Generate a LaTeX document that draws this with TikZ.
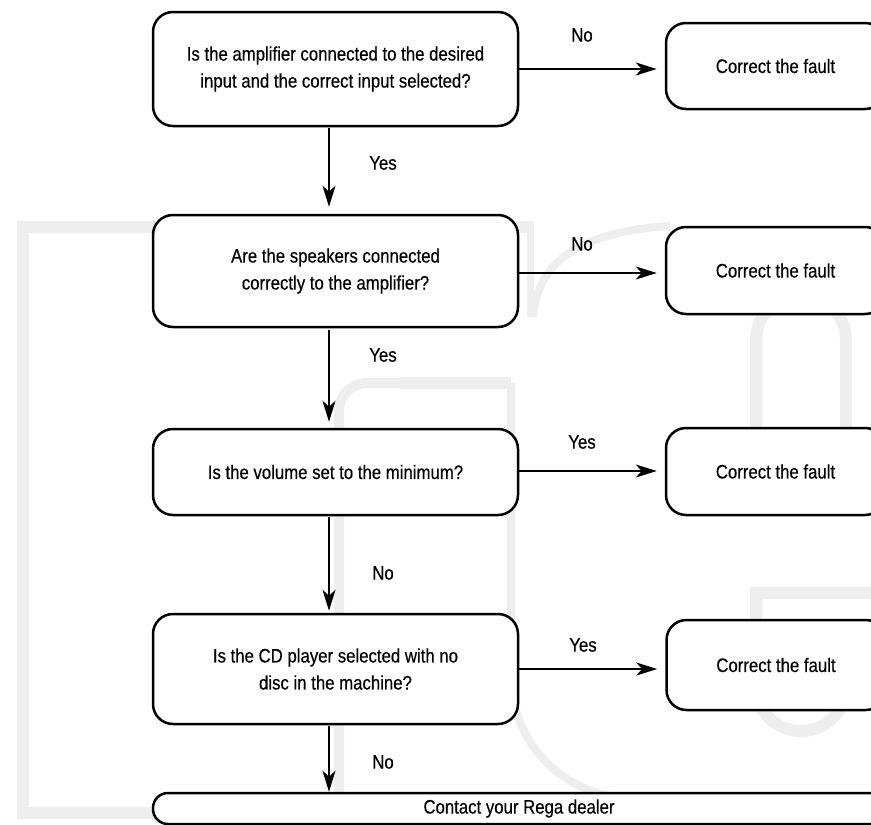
\documentclass[tikz,border=0pt]{standalone}
\usepackage{fontspec}
\setmainfont{Liberation Sans}[FakeStretch=0.86,FakeBold=0.4]
\usetikzlibrary{arrows.meta}
\definecolor{wm}{RGB}{238,238,238}
\tikzset{
  txt/.style={font=\fontsize{19.5}{27}\selectfont, text=black},
  qnode/.style={txt, draw, line width=2.5pt, rounded corners=20pt, fill=white,
    minimum width=365pt, inner sep=0pt, align=center},
  fnode/.style={txt, draw, line width=2.5pt, rounded corners=20pt, fill=white,
    minimum width=219pt, inner sep=0pt, align=center},
  endnode/.style={txt, draw, line width=2.5pt, rounded corners=15pt, fill=white,
    minimum width=732pt, minimum height=31pt, inner sep=0pt},
  arr/.style={-{Stealth[length=21pt,width=13pt,inset=6pt]}, line width=2.2pt},
  lab/.style={txt, inner sep=0pt},
  wmark/.style={draw=wm, line cap=butt, line join=miter}
}
\begin{document}
\begin{tikzpicture}[x=1pt,y=-1pt]
\useasboundingbox (0,0) rectangle (871,825);
\clip (0,0) rectangle (871,825);
\fill[white] (0,0) rectangle (871,825);
% watermark logo
\draw[wmark, line width=12pt] (160,813) -- (23,813) -- (23,227) -- (533,227);
\draw[wmark, line width=7pt] (530,221) -- (530,317);
\draw[wmark, line width=8pt] (533,317) .. controls (537,265) and (575,232) .. (670,226);
\draw[wmark, line width=10pt, rounded corners=28pt] (339,830) -- (339,383) -- (420,383);
\draw[wmark, line width=12pt] (400,383) -- (511,383);
\draw[wmark, line width=8pt] (511,383) -- (511,676) .. controls (511,743) and (565,798) .. (632,798);
\draw[wmark, line width=12pt] (756,432) -- (756,340) .. controls (756,315) and (776,295) .. (801,295)
   .. controls (826,295) and (846,315) .. (846,340) -- (846,432);
\draw[wmark, line width=12pt] (880,593) -- (756,593) -- (756,686)
   .. controls (756,711) and (776,731) .. (801,731) .. controls (826,731) and (846,711) .. (846,686) -- (846,650);
% nodes
\node[qnode, minimum height=114pt] (q1) at (335.5,69) {Is the amplifier connected to the desired\\input and the correct input selected?};
\node[qnode, minimum height=112pt] (q2) at (335.5,271) {Are the speakers connected\\correctly to the amplifier?};
\node[qnode, minimum height=86pt] (q3) at (335.5,472) {Is the volume set to the minimum?};
\node[qnode, minimum height=110pt] (q4) at (335.5,669) {Is the CD player selected with no\\disc in the machine?};
\node[fnode, minimum height=86pt] (r1) at (775.5,66) {Correct the fault};
\node[fnode, minimum height=87pt] (r2) at (775.5,270.5) {Correct the fault};
\node[fnode, minimum height=87pt] (r3) at (775.5,471.5) {Correct the fault};
\node[fnode, minimum height=90pt] (r4) at (776,665) {Correct the fault};
\node[endnode] (end) at (519,808.5) {Contact your Rega dealer};
% connectors
\draw[arr, shorten >=8pt] (q1.east) -- (q1.east -| r1.west);
\draw[arr, shorten >=8pt] ([yshift=-2pt]q2.east) -- ([yshift=-2pt]q2.east -| r2.west);
\draw[arr, shorten >=8pt] ([yshift=1pt]q3.east) -- ([yshift=1pt]q3.east -| r3.west);
\draw[arr, shorten >=8pt] (q4.east) -- (q4.east -| r4.west);
\draw[arr, shorten <=1pt, shorten >=7pt] ([xshift=-6.5pt]q1.south) -- ([xshift=-6.5pt]q2.north);
\draw[arr, shorten <=2pt, shorten >=6pt] ([xshift=-6.5pt]q2.south) -- ([xshift=-6.5pt]q3.north);
\draw[arr, shorten <=1pt, shorten >=2pt] ([xshift=-6.5pt]q3.south) -- ([xshift=-6.5pt]q4.north);
\draw[arr, shorten <=1pt] ([xshift=-6.5pt]q4.south) -- ([xshift=-6.5pt]q4.south |- end.north);
% labels
\node[lab] (l1) at (582,35) {No};
\node[lab] (l2) at (383,163) {Yes};
\node[lab] (l3) at (582,244) {No};
\node[lab] (l4) at (383,355) {Yes};
\node[lab] (l5) at (582,442) {Yes};
\node[lab] (l6) at (383,573) {No};
\node[lab] (l7) at (583,645) {Yes};
\node[lab] (l8) at (383,762) {No};
\end{tikzpicture}
\end{document}
